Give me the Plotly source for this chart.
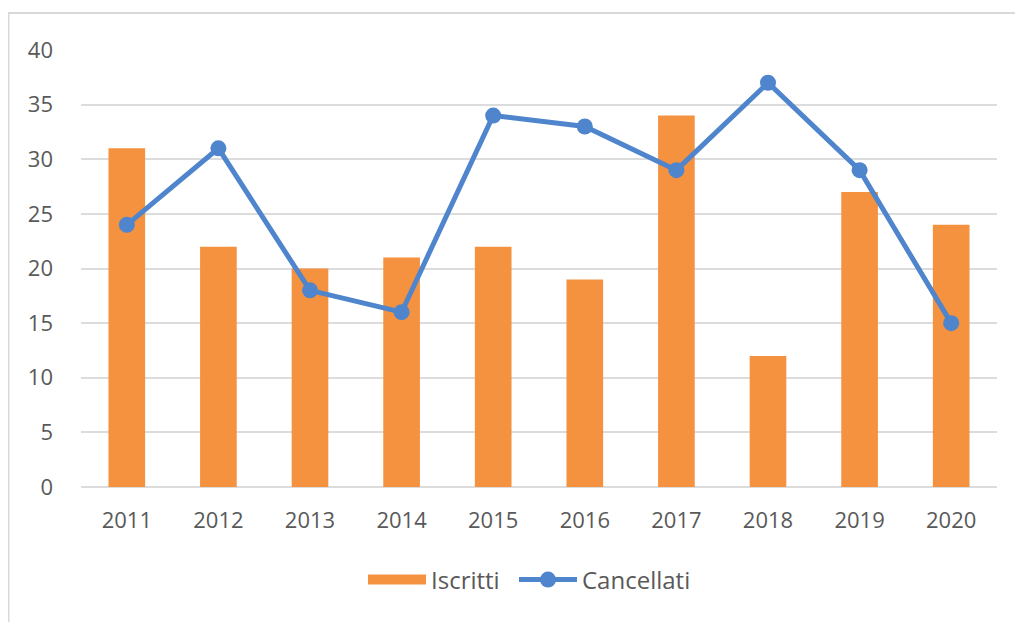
import plotly.graph_objects as go

years = ["2011", "2012", "2013", "2014", "2015", "2016", "2017", "2018", "2019", "2020"]
iscritti = [31, 22, 20, 21, 22, 19, 34, 12, 27, 24]
cancellati = [24, 31, 18, 16, 34, 33, 29, 37, 29, 15]
y_ticks = [0, 5, 10, 15, 20, 25, 30, 35, 40]

ORANGE = "#F4923F"
BLUE = "#4F85CC"

# page body has an 8px margin, so the figure is shifted by 8px
W, H = 1015, 614
L, R, T, B = 73, 26, 42, 135
pw, ph = W - L - R, H - T - B

fig = go.Figure()
fig.add_trace(go.Bar(x=years, y=iscritti, name="Iscritti", marker_color=ORANGE,
                     marker_line_width=0, width=0.4, showlegend=False, legendgroup="i"))
# legend entry for the bars (wide rectangle swatch as in the original)
fig.add_trace(go.Scatter(x=[None], y=[None], name="Iscritti", mode="lines",
                         line=dict(color=ORANGE, width=14), legendgroup="i",
                         legend="legend"))
fig.add_trace(go.Scatter(x=years, y=cancellati, name="Cancellati", mode="lines+markers",
                         line=dict(color=BLUE, width=5),
                         marker=dict(color=BLUE, size=16), legend="legend2"))

leg_common = dict(orientation="h", xanchor="left", xref="container",
                  y=1 - 572 / H, yanchor="middle", yref="container",
                  font=dict(size=24, color="#595959"), itemwidth=58,
                  bgcolor="rgba(0,0,0,0)")

fig.update_layout(
    width=W, height=H,
    margin=dict(l=L, r=R, t=T, b=B, autoexpand=False),
    paper_bgcolor="white", plot_bgcolor="white",
    font=dict(family="Open Sans", size=22, color="#595959"),
    legend=dict(x=(369 - 8 - 6) / W, **leg_common),
    legend2=dict(x=(520 - 8 - 6) / W, **leg_common),
    xaxis=dict(range=[-0.5, 9.5], showgrid=False, showline=False, ticks="",
               tickfont=dict(size=22), ticklabelstandoff=18, automargin=False),
    yaxis=dict(range=[0, 40], tickvals=y_ticks, showgrid=True, gridcolor="#DCDCDC",
               gridwidth=2, zeroline=True, zerolinecolor="#DCDCDC", zerolinewidth=2,
               ticks="", tickfont=dict(size=22), ticklabelstandoff=27, automargin=False),
    shapes=[dict(type="rect", xref="paper", yref="paper",
                 x0=(0.5 - L) / pw, x1=(W + 10 - L) / pw,
                 y0=-(H + 10 - T - ph) / ph, y1=1 + (T - 5) / ph,
                 line=dict(color="#D9D9D9", width=2), fillcolor="rgba(0,0,0,0)", layer="below")],
)

fig.write_html("out.html")
